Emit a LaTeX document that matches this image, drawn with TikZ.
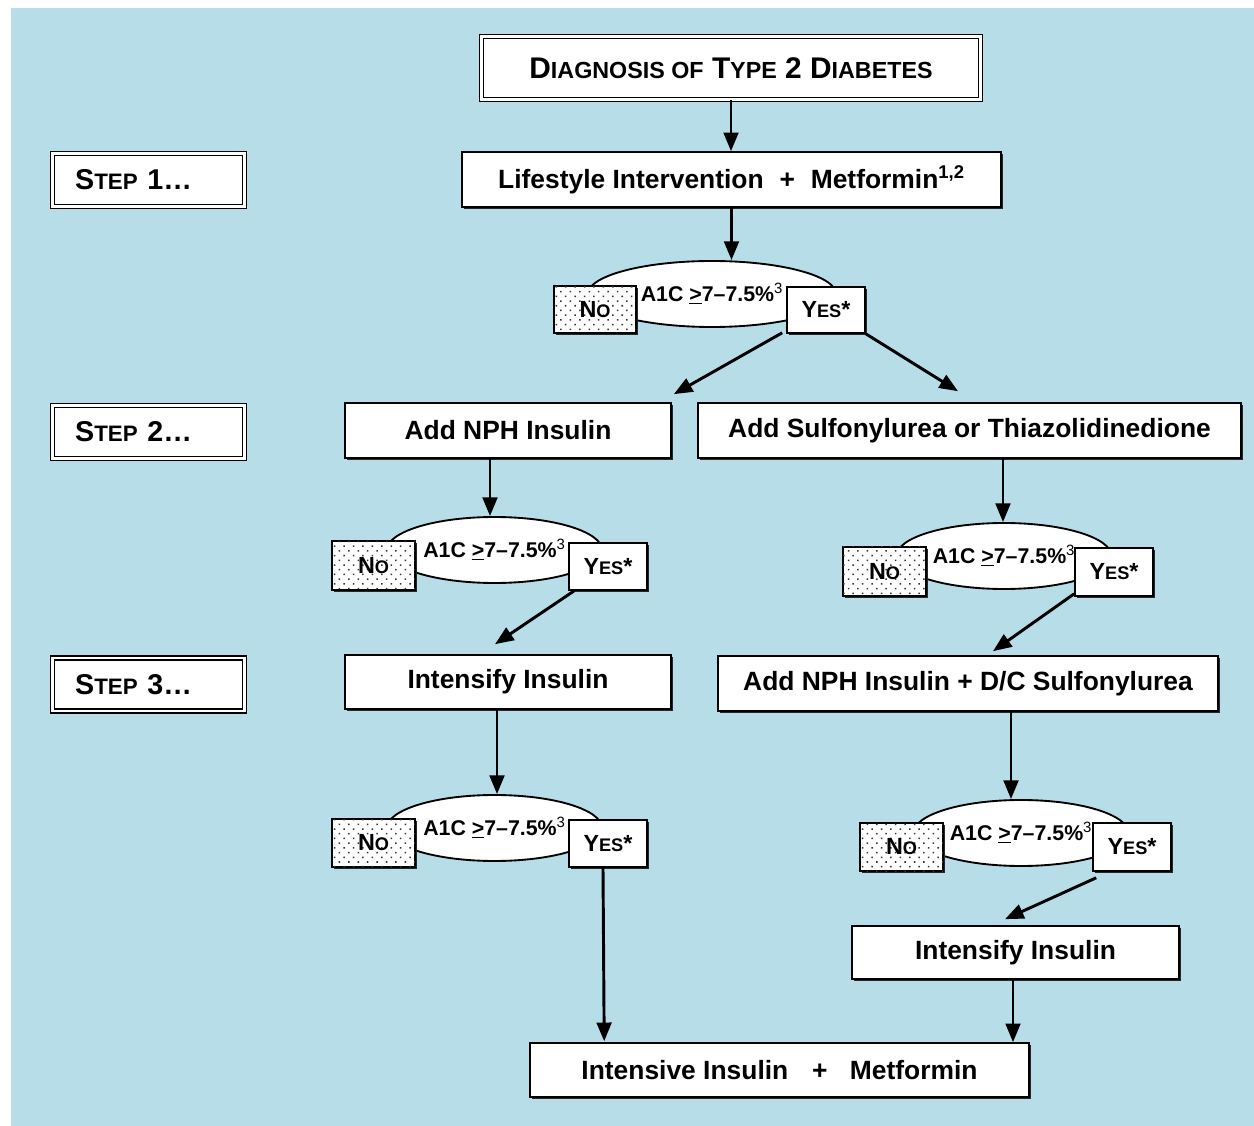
\documentclass[tikz,border=0pt]{standalone}
\usepackage{fontspec}
\setmainfont{Liberation Sans}
\usetikzlibrary{arrows.meta,shadows,patterns.meta,calc,shapes.geometric}
\definecolor{bgblue}{RGB}{183,222,232}
\newcommand\smc[1]{\scalebox{0.78}{#1}}
\begin{document}
\begin{tikzpicture}[x=0.75pt,y=-0.75pt,
  sz/.style 2 args={minimum width=#1*0.75pt, minimum height=#2*0.75pt, inner sep=0pt},
  shad/.style={drop shadow={shadow xshift=1.4pt, shadow yshift=-1.4pt, opacity=1, fill=black!85}},
  box/.style={draw, line width=1.2pt, fill=white, shad, font=\fontsize{19.8}{22}\selectfont\bfseries},
  dbox/.style={draw, line width=1.1pt, double, double distance=1.6pt, fill=white, shad},
  stepbox/.style={dbox, sz={192}{53}, font=\fontsize{21.5}{24}\selectfont\bfseries, inner xsep=16.5pt, text width=110pt, align=left},
  ell/.style={draw, ellipse, line width=1.4pt, fill=white, text height=11.5pt, text depth=0pt, font=\fontsize{16}{18}\selectfont\bfseries},
  yesbox/.style={draw, line width=1.2pt, fill=white, shad, font=\fontsize{17.5}{20}\selectfont\bfseries},
  nobox/.style={yesbox, postaction={pattern={Dots[distance=5pt,radius=0.8pt,angle=45]}, pattern color=black!80}},
  arr/.style={line width=2.2pt, -{Triangle[length=14pt,width=11pt]}},
]
\useasboundingbox (0,0) rectangle (1254,1126);
\fill[bgblue] (11,8) rectangle (1254,1126);

% ellipses (decisions)
\node[ell, sz={248}{66}] (eA) at (712,294) {A1C \underline{>}7–7.5\%\textsuperscript{\mdseries 3}};
\node[ell, sz={215}{66}] (eB) at (494.5,550) {A1C \underline{>}7–7.5\%\textsuperscript{\mdseries 3}};
\node[ell, sz={215}{66}] (eC) at (1004,556) {A1C \underline{>}7–7.5\%\textsuperscript{\mdseries 3}};
\node[ell, sz={215}{66}] (eD) at (494.5,828) {A1C \underline{>}7–7.5\%\textsuperscript{\mdseries 3}};
\node[ell, sz={215}{66}] (eE) at (1021,833) {A1C \underline{>}7–7.5\%\textsuperscript{\mdseries 3}};

% main boxes
\node[dbox, sz={499}{63}, font=\fontsize{22.4}{26}\selectfont\bfseries] (title) at (731,68) {D\smc{IAGNOSIS OF} T\smc{YPE} 2 D\smc{IABETES}};
\node[stepbox] (s1) at (148.5,180) {S\smc{TEP} 1…};
\node[stepbox] (s2) at (148.5,432) {S\smc{TEP} 2…};
\node[stepbox] (s3) at (148.5,684.5) {S\smc{TEP} 3…};
\node[box, sz={539}{55}] (life) at (731.5,179.5) {Lifestyle Intervention\hspace{0.6em}+\hspace{0.6em}Metformin\textsuperscript{1,2}};
\node[box, sz={326}{55}] (NPH) at (508,430.5) {Add NPH Insulin};
\node[box, sz={543}{55}] (Sulf) at (969.5,430.5) {Add Sulfonylurea or Thiazolidinedione};
\node[box, sz={326}{54}] (intensL) at (508,682) {Intensify Insulin};
\node[box, sz={500}{55}] (NPHDC) at (968,683.5) {Add NPH Insulin + D/C Sulfonylurea};
\node[box, sz={327}{53}] (intensR) at (1015.5,952.5) {Intensify Insulin};
\node[box, sz={499}{54}] (final) at (779.5,1070) {Intensive Insulin\hspace{0.9em}+\hspace{0.85em}Metformin};

% yes / no boxes
\node[nobox, sz={82}{47}] (noA) at (595,309.5) {N\smc{O}};
\node[yesbox, sz={78}{46}] (yesA) at (826,310) {Y\smc{ES}*};
\node[nobox, sz={83}{49}] (noB) at (373.5,565.5) {N\smc{O}};
\node[yesbox, sz={78}{47}] (yesB) at (608,566.5) {Y\smc{ES}*};
\node[nobox, sz={83}{49}] (noC) at (884.5,571.5) {N\smc{O}};
\node[yesbox, sz={78}{48}] (yesC) at (1114,572) {Y\smc{ES}*};
\node[nobox, sz={83}{48}] (noD) at (373.5,843) {N\smc{O}};
\node[yesbox, sz={78}{47}] (yesD) at (608,843.5) {Y\smc{ES}*};
\node[nobox, sz={83}{48}] (noE) at (901.5,847) {N\smc{O}};
\node[yesbox, sz={78}{48}] (yesE) at (1132,847) {Y\smc{ES}*};

% connectors
\draw[arr] (title.south) -- (title.south |- life.north);
\draw[arr] (life.south) -- (life.south |- eA.north);
\draw[arr] ($(yesA.south west)+(-4,-1)$) -- ($(NPH.north east)+(2,-8)$);
\draw[arr] (yesA.south east) -- ($(Sulf.north)+(-11.5,-11)$);

\coordinate (a3) at ($(NPH.south)+(-18,0)$);
\draw[arr] (a3) -- (a3 |- eB.north);
\coordinate (a5) at ($(Sulf.south)+(33.5,0)$);
\draw[arr] (a5) -- (a5 |- eC.north);
\draw[arr] ($(yesB.south west)+(6,0)$) -- ($(intensL.north)+(-13,-10)$);
\draw[arr] ($(yesC.south west)+(0,-3)$) -- ($(NPHDC.north)+(25,-4)$);

\coordinate (a9) at ($(intensL.south)+(-11,0)$);
\draw[arr] (a9) -- (a9 |- eD.north);
\coordinate (a10) at ($(NPHDC.south)+(43,0)$);
\draw[arr] (a10) -- (a10 |- eE.north);
\draw[arr] ($(yesD.south)+(-5,0)$) -- ($(final.north west)+(75,-1)$);
\draw[arr] ($(yesE.south west)+(4,6)$) -- ($(intensR.north)+(-10.5,-6)$);
\coordinate (a13) at ($(intensR.south)+(-2.5,0)$);
\draw[arr] (a13) -- (a13 |- final.north);
\end{tikzpicture}
\end{document}
